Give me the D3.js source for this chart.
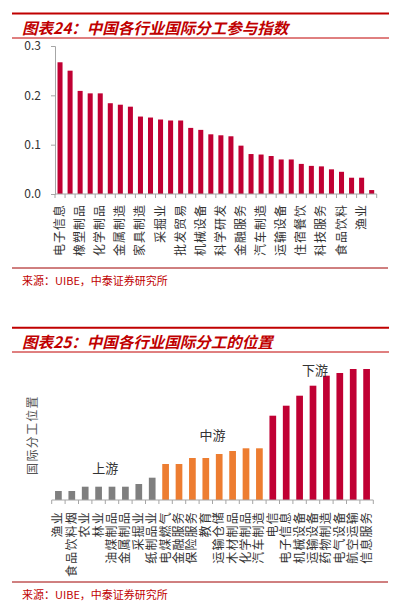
<!DOCTYPE html>
<html><head><meta charset="utf-8">
<script src="https://cdn.jsdelivr.net/npm/d3@7"></script>
<style>
html,body{margin:0;padding:0;background:#fff;}
svg{display:block;}
text{font-family:"Noto Sans CJK SC","Noto Sans",sans-serif;}
</style></head>
<body>
<script>
// ---------- Chart 1 data ----------
const title1 = "图表24：中国各行业国际分工参与指数";
const values1 = [0.267,0.250,0.209,0.204,0.204,0.184,0.181,0.177,0.157,0.155,0.151,0.149,0.149,0.134,0.130,0.121,
                 0.119,0.117,0.098,0.081,0.080,0.077,0.070,0.070,0.061,0.057,0.056,0.050,0.045,0.033,0.033,0.008];
// labels shown on every other category (odd positions)
const labels1 = ["电子信息","橡塑制品","化学制品","金属制造","家具制造","采掘业","批发贸易","机械设备",
                 "科学研发","金融服务","汽车制造","运输设备","住宿餐饮","科技服务","食品饮料","渔业"];
const yTicks1 = [0, 0.1, 0.2, 0.3];
const yTickLabels1 = ["0.0","0.1","0.2","0.3"];
const source = "来源：UIBE，中泰证券研究所";

// ---------- Chart 2 data ----------
const title2 = "图表25：中国各行业国际分工的位置";
const categories2 = ["渔业","食品饮料烟","农业","林业","油煤制品","金属制品","采掘业","纸制品业",
                     "电煤燃气","金融服务","保险服务","教育","运输仓储","木材制品","化学制品","汽车制造",
                     "电信","电子信息","机械设备","运输设备","药物制造","电气设备","航空运输","信息服务"];
const values2 = [9,9,13.3,13.3,13.3,13.3,16,22.3, 36,36,42,42,46,49,51.7,51.7, 84.3,94.3,104.3,114.3,124.3,127,131,131];
const groups2 = ["上游","上游","上游","上游","上游","上游","上游","上游",
                 "中游","中游","中游","中游","中游","中游","中游","中游",
                 "下游","下游","下游","下游","下游","下游","下游","下游"];
const groupNames = ["上游","中游","下游"];
const groupColors = ["#7f7f7f","#ED7D31","#C00033"];
// annotation anchors: category near which each group label sits, and its level on the value scale
const groupAnchor = ["油煤制品","运输仓储","运输设备"];
const groupLevel = [32, 65, 130];
const yTitle2 = "国际分工位置";

const W = 395, H = 606;
const svg = d3.select("body").append("svg").attr("width", W).attr("height", H);
const red = "#C00000";
const barRed = "#C00033";
const axisGray = "#a6a6a6";

function header(yTop, yBottom, txt) {
  svg.append("line").attr("x1",12).attr("x2",389).attr("y1",yTop).attr("y2",yTop)
     .attr("stroke",red).attr("stroke-width",2);
  svg.append("text").attr("x",22).attr("y",yTop+20).text(txt)
     .attr("fill",red).attr("font-size",15.5).attr("font-weight","bold").attr("font-style","italic");
  svg.append("line").attr("x1",12).attr("x2",389).attr("y1",yBottom).attr("y2",yBottom)
     .attr("stroke",red).attr("stroke-width",1);
}
function footer(yLine, txt) {
  svg.append("line").attr("x1",12).attr("x2",388).attr("y1",yLine).attr("y2",yLine)
     .attr("stroke","#a00000").attr("stroke-width",1);
  svg.append("text").attr("x",22).attr("y",yLine+17).text(txt)
     .attr("fill",red).attr("font-size",11);
}

// ================= Chart 1 =================
header(13.5, 38, title1);
const x1 = d3.scaleBand().domain(d3.range(values1.length)).range([55, 376.7]).paddingInner(0.5).paddingOuter(0.25);
const y1 = d3.scaleLinear().domain([0, 0.3]).range([194, 46]);

const g1 = svg.append("g");
g1.selectAll("rect").data(values1).join("rect")
  .attr("x",(d,i)=>x1(i)).attr("width",x1.bandwidth())
  .attr("y",d=>y1(d)).attr("height",d=>y1(0)-y1(d)).attr("fill",barRed);

// y axis
const yAx1 = g1.append("g").attr("transform","translate(55,0)")
  .call(d3.axisLeft(y1).tickValues(yTicks1).tickFormat((d,i)=>yTickLabels1[i]).tickSizeOuter(0).tickSize(4).tickPadding(10));
yAx1.select(".domain").attr("stroke",axisGray);
yAx1.selectAll(".tick line").attr("stroke",axisGray);
yAx1.selectAll(".tick text").attr("font-size",12).attr("fill","#333")
  .attr("font-family","'Liberation Sans',Arial,sans-serif");

// x axis line + boundary ticks
const step1 = x1.step();
g1.append("line").attr("x1",55).attr("x2",376.7).attr("y1",y1(0)).attr("y2",y1(0)).attr("stroke",axisGray);
g1.selectAll(".bt").data(d3.range(values1.length+1)).join("line").attr("class","bt")
  .attr("x1",i=>55+i*step1).attr("x2",i=>55+i*step1)
  .attr("y1",y1(0)).attr("y2",y1(0)+4).attr("stroke",axisGray);

// x labels (every other category)
g1.selectAll(".xl").data(labels1).join("text").attr("class","xl")
  .attr("transform",(d,i)=>`translate(${x1(i*2)+x1.bandwidth()/2+4},204) rotate(-90)`)
  .attr("text-anchor","end").attr("font-size",12).attr("letter-spacing",1)
  .attr("fill","#333").text(d=>d);

footer(268, source);

// ================= Chart 2 =================
header(327.7, 352, title2);
const x2 = d3.scaleBand().domain(categories2).range([51.7, 373.3]).paddingInner(0.5).paddingOuter(0.25);
const y2 = d3.scaleLinear().domain([0, 140]).range([500, 360]);
const color2 = d3.scaleOrdinal().domain(groupNames).range(groupColors);

const g2 = svg.append("g");
g2.selectAll("rect").data(values2).join("rect")
  .attr("x",(d,i)=>x2(categories2[i])).attr("width",x2.bandwidth())
  .attr("y",d=>y2(d)).attr("height",d=>y2(0)-y2(d))
  .attr("fill",(d,i)=>color2(groups2[i]));

// x axis
const step2 = x2.step();
g2.append("line").attr("x1",51.7).attr("x2",373.3).attr("y1",y2(0)).attr("y2",y2(0)).attr("stroke",axisGray);
g2.selectAll(".bt").data(d3.range(categories2.length+1)).join("line").attr("class","bt")
  .attr("x1",i=>51.7+i*step2).attr("x2",i=>51.7+i*step2)
  .attr("y1",y2(0)).attr("y2",y2(0)+4).attr("stroke",axisGray);

g2.selectAll(".xl").data(categories2).join("text").attr("class","xl")
  .attr("transform",d=>`translate(${x2(d)+x2.bandwidth()/2+4},511) rotate(-90)`)
  .attr("text-anchor","end").attr("font-size",12).attr("letter-spacing",1.2)
  .attr("fill","#333").text(d=>d);

// y title
svg.append("text").attr("transform","translate(37,435) rotate(-90)")
  .attr("text-anchor","middle").attr("font-size",12).attr("letter-spacing",1.3)
  .attr("fill","#555").text(yTitle2);

// group annotations
groupNames.forEach((gn,k)=>{
  const a = groupAnchor[k];
  const cx = k===2 ? x2(a)+x2.bandwidth()/2+2 : x2(a) - (x2.step()-x2.bandwidth())/2;
  svg.append("text").attr("x",cx).attr("y",y2(groupLevel[k])+5)
    .attr("text-anchor","middle").attr("font-size",13).attr("fill","#333").text(gn);
});

footer(582, source);
</script>
</body></html>
